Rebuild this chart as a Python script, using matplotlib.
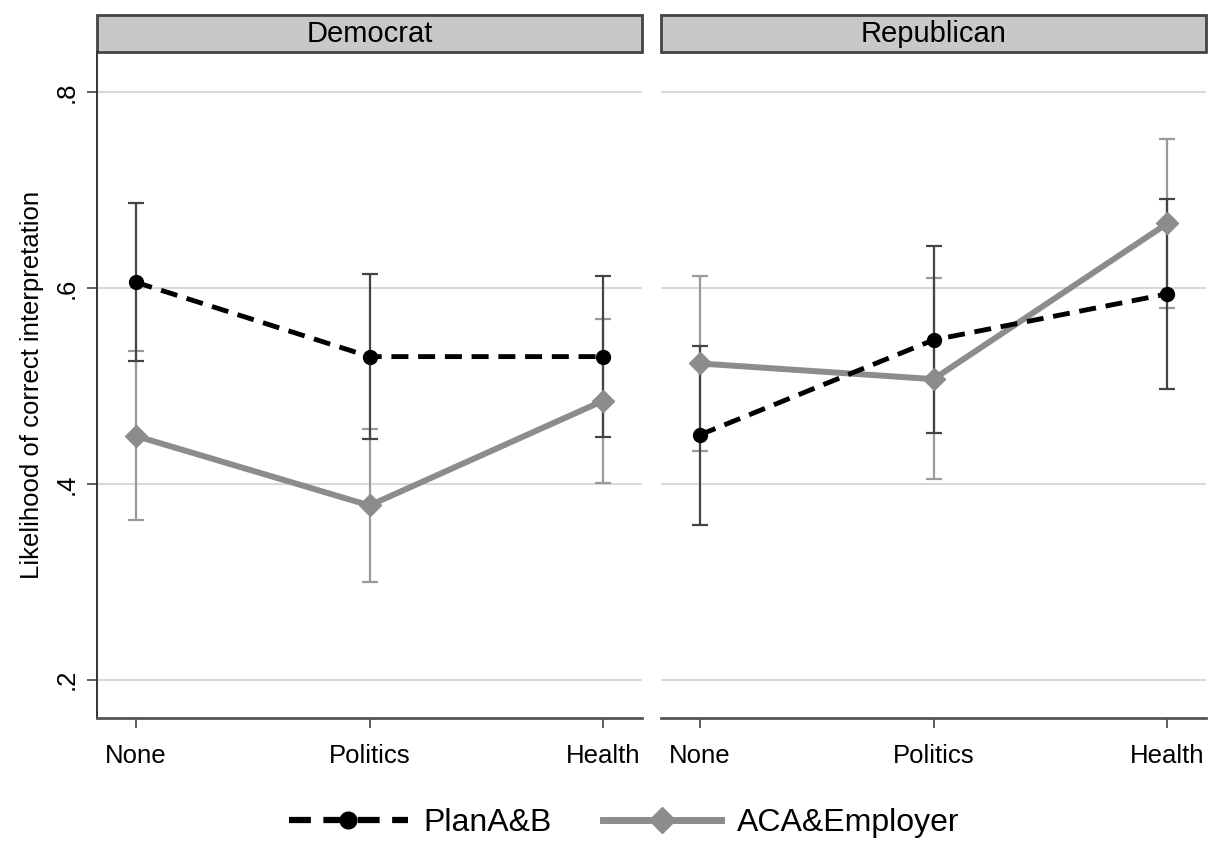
import numpy as np
import matplotlib.pyplot as plt
from matplotlib.patches import Rectangle
from matplotlib.lines import Line2D

plt.rcParams['font.family'] = ['Liberation Sans', 'DejaVu Sans']

conditions = ['None', 'Politics', 'Health']
panels = ['Democrat', 'Republican']

# point estimates and CI bounds
plan_mean = {'Democrat': [0.606, 0.530, 0.530], 'Republican': [0.450, 0.547, 0.594]}
plan_lo = {'Democrat': [0.525, 0.446, 0.448], 'Republican': [0.358, 0.452, 0.497]}
plan_hi = {'Democrat': [0.687, 0.614, 0.612], 'Republican': [0.541, 0.643, 0.691]}

aca_mean = {'Democrat': [0.449, 0.378, 0.485], 'Republican': [0.523, 0.507, 0.666]}
aca_lo = {'Democrat': [0.363, 0.300, 0.401], 'Republican': [0.434, 0.405, 0.580]}
aca_hi = {'Democrat': [0.536, 0.456, 0.568], 'Republican': [0.612, 0.610, 0.752]}

yticks = [0.2, 0.4, 0.6, 0.8]
ytick_labels = ['.2', '.4', '.6', '.8']

fig = plt.figure(figsize=(12.15, 8.46), dpi=100)
W, H = 1215, 846
ax_boxes = [(97, 642), (661, 1206)]
top_px, bot_px = 52, 718

dash = (0, (3.5, 2))
x = np.arange(len(conditions))
for i, (name, (x0, x1)) in enumerate(zip(panels, ax_boxes)):
    ax = fig.add_axes([x0 / W, 1 - bot_px / H, (x1 - x0) / W, (bot_px - top_px) / H])

    for yt in yticks:
        ax.axhline(yt, color='#d9d9d9', lw=1.5, zorder=0)

    am, al, ah = np.array(aca_mean[name]), np.array(aca_lo[name]), np.array(aca_hi[name])
    pm, pl, ph = np.array(plan_mean[name]), np.array(plan_lo[name]), np.array(plan_hi[name])

    ax.errorbar(x, am, yerr=[am - al, ah - am], fmt='none', ecolor='#9a9a9a',
                elinewidth=1.6, capsize=6, capthick=1.6, zorder=2)
    ax.errorbar(x, pm, yerr=[pm - pl, ph - pm], fmt='none', ecolor='#444444',
                elinewidth=1.6, capsize=6, capthick=1.6, zorder=2)
    ax.plot(x, am, color='#8c8c8c', lw=4.3, marker='D', ms=11, mfc='#8c8c8c',
            mec='#8c8c8c', zorder=3)
    ax.plot(x, pm, color='black', lw=3.5, ls=dash, marker='o', ms=10, zorder=4)

    ax.set_xlim(-0.165, 2.165)
    ax.set_ylim(0.161, 0.841)
    ax.set_xticks(x)
    ax.set_xticklabels(conditions, fontsize=18.5)
    ax.tick_params(axis='x', length=7, width=1.2, color='#444444', pad=12)

    for s in ['top', 'right']:
        ax.spines[s].set_visible(False)
    ax.spines['bottom'].set_linewidth(2)
    ax.spines['bottom'].set_color('#555555')
    if i == 0:
        ax.spines['left'].set_linewidth(1.4)
        ax.spines['left'].set_color('#333333')
        ax.set_yticks(yticks)
        ax.set_yticklabels(ytick_labels, fontsize=18.5, rotation=90, va='center')
        ax.tick_params(axis='y', length=7, width=1.2, color='#444444', pad=6)
        ax.set_ylabel('Likelihood of correct interpretation', fontsize=18.5, labelpad=8)
    else:
        ax.spines['left'].set_visible(False)
        ax.set_yticks([])

    # strip header
    strip_h = 37 / (bot_px - top_px)
    ax.add_patch(Rectangle((0, 1.0), 1, strip_h, transform=ax.transAxes,
                           facecolor='#c8c8c8', edgecolor='#444444', lw=2,
                           clip_on=False))
    ax.text(0.5, 1.0 + strip_h / 2, name, transform=ax.transAxes, ha='center',
            va='center', fontsize=21)

handles = [
    Line2D([], [], color='black', lw=4.5, ls=dash, marker='o', ms=12),
    Line2D([], [], color='#8c8c8c', lw=5, marker='D', ms=13),
]
fig.legend(handles, ['PlanA&B', 'ACA&Employer'], loc='center',
           bbox_to_anchor=(0.514, 1 - 823 / H), ncol=2, frameon=False,
           fontsize=23, handlelength=3.7, handletextpad=0.5, columnspacing=1.6)

fig.savefig('out.png', dpi=100)
